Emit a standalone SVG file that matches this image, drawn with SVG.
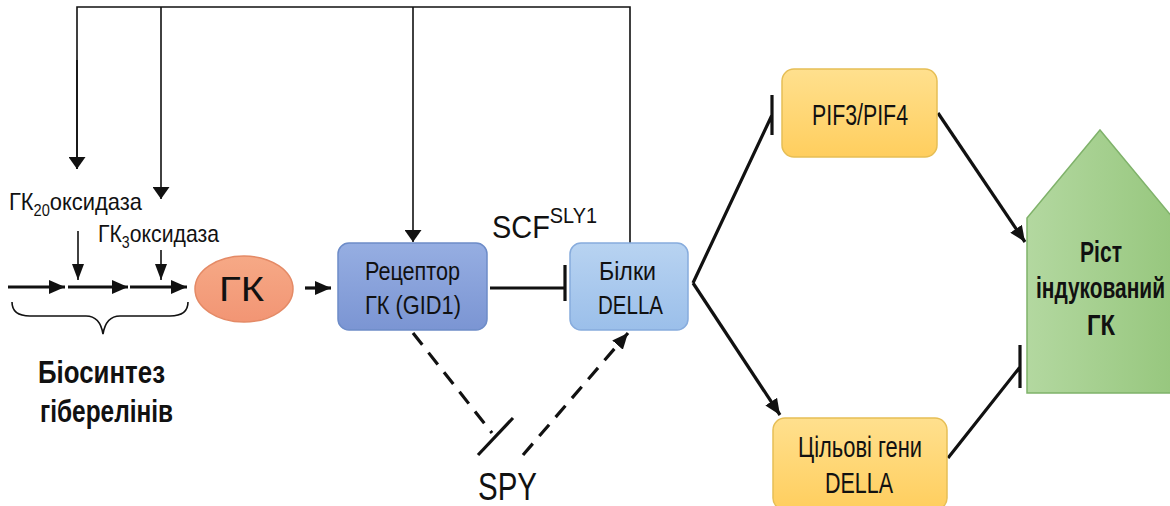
<svg xmlns="http://www.w3.org/2000/svg" width="1170" height="506" viewBox="0 0 1170 506">
<defs>
<style>
.t{font-family:"Liberation Sans",Arial,sans-serif;fill:#111}
.b{font-weight:bold}
.thin{stroke:#111;stroke-width:1.6;fill:none}
.thick{stroke:#111;stroke-width:3.2;fill:none}
.dash{stroke:#111;stroke-width:3.2;fill:none;stroke-dasharray:15 10}
</style>
<marker id="ah" markerUnits="userSpaceOnUse" viewBox="0 0 12 17" refX="12" refY="8.5" markerWidth="12" markerHeight="17" orient="auto"><path d="M0,0 L12,8.5 L0,17 z" fill="#111"/></marker>
<marker id="ahs" markerUnits="userSpaceOnUse" viewBox="0 0 16 12" refX="16" refY="6" markerWidth="16" markerHeight="12" orient="auto"><path d="M0,0 L16,6 L0,12 z" fill="#111"/></marker>
<marker id="ahb" markerUnits="userSpaceOnUse" viewBox="0 0 16 14" refX="16" refY="7" markerWidth="16" markerHeight="14" orient="auto"><path d="M0,0 L16,7 L0,14 z" fill="#111"/></marker>
<linearGradient id="gRec" x1="0" y1="0" x2="0" y2="1"><stop offset="0" stop-color="#96AEE2"/><stop offset="1" stop-color="#7B95D3"/></linearGradient>
<linearGradient id="gDel" x1="0" y1="0" x2="0" y2="1"><stop offset="0" stop-color="#B8D3F1"/><stop offset="1" stop-color="#9BBFEA"/></linearGradient>
<linearGradient id="gY" x1="0" y1="0" x2="0" y2="1"><stop offset="0" stop-color="#FFE08E"/><stop offset="1" stop-color="#FFCE5E"/></linearGradient>
<linearGradient id="gG" x1="0" y1="0" x2="1" y2="0"><stop offset="0" stop-color="#B3D8A0"/><stop offset="1" stop-color="#97C77E"/></linearGradient>
<linearGradient id="gO" x1="0" y1="0" x2="0" y2="1"><stop offset="0" stop-color="#F6A986"/><stop offset="1" stop-color="#F29574"/></linearGradient>
</defs>

<g id="connectors">
<path class="thin" d="M77,169 V7 H630 V243"/>
<path class="thin" d="M77,60 V169" marker-end="url(#ah)"/>
<path class="thin" d="M161,7 V199" marker-end="url(#ah)"/>
<path class="thin" d="M413,7 V242" marker-end="url(#ah)"/>
<path class="thin" d="M78,231 V280" marker-end="url(#ahs)"/>
<path class="thin" d="M161,250 V280" marker-end="url(#ahs)"/>
<path class="thick" d="M8,287 H65" marker-end="url(#ahb)"/>
<path class="thick" d="M68,287 H128" marker-end="url(#ahb)"/>
<path class="thick" d="M130,287 H187" marker-end="url(#ahb)"/>
<path class="thick" d="M305,288 H331" marker-end="url(#ahb)"/>
<path class="thick" d="M490,288 H565 M565,265 V301"/>
<path class="dash" d="M413,333 L492,433"/>
<path class="thick" d="M478,455 L513,418"/>
<path class="dash" d="M523,455 L628,333" marker-end="url(#ahb)"/>
<path class="thick" d="M693,283 L772,115 M772,95 V135"/>
<path class="thick" d="M693,283 L780,415" marker-end="url(#ahb)"/>
<path class="thick" d="M938,113 L1025,242" marker-end="url(#ahb)"/>
<path class="thick" d="M948,458 L1020,367 M1020,345 V388"/>
<path class="thin" stroke-width="1.8" d="M12,302 Q12,316 30,316 H86 Q100,316 103,334 Q106,316 120,316 H170 Q188,316 188,302"/>
</g>

<g id="labels">
<text class="t" x="9" y="210" font-size="24" textLength="133" lengthAdjust="spacingAndGlyphs">ГК<tspan font-size="16" dy="6">20</tspan><tspan dy="-6">оксидаза</tspan></text>
<text class="t" x="98" y="242" font-size="24" textLength="121" lengthAdjust="spacingAndGlyphs">ГК<tspan font-size="16" dy="6">3</tspan><tspan dy="-6">оксидаза</tspan></text>
<text class="t b" x="38" y="383" font-size="32" textLength="127" lengthAdjust="spacingAndGlyphs">Біосинтез</text>
<text class="t b" x="40" y="422" font-size="32" textLength="133" lengthAdjust="spacingAndGlyphs">гіберелінів</text>
<text class="t" x="492" y="238" font-size="32" textLength="105" lengthAdjust="spacingAndGlyphs">SCF<tspan font-size="22" dy="-15">SLY1</tspan></text>
<text class="t" x="478" y="500" font-size="38" textLength="59" lengthAdjust="spacingAndGlyphs">SPY</text>
</g>

<g id="node-gk">
<ellipse cx="244" cy="289" rx="49" ry="33" fill="url(#gO)" stroke="#E48A66" stroke-width="1.5"/>
<text class="t" x="219" y="301" font-size="35" textLength="45" lengthAdjust="spacingAndGlyphs">ГК</text>
</g>

<g id="node-receptor">
<rect x="338" y="243" width="149" height="87" rx="11" fill="url(#gRec)" stroke="#6D8CC8" stroke-width="1.5"/>
<text class="t" x="365" y="280" font-size="25" textLength="95" lengthAdjust="spacingAndGlyphs">Рецептор</text>
<text class="t" x="365" y="314" font-size="25" textLength="96" lengthAdjust="spacingAndGlyphs">ГК (GID1)</text>
</g>

<g id="node-della">
<rect x="570" y="243" width="118" height="87" rx="11" fill="url(#gDel)" stroke="#87ACDD" stroke-width="1.5"/>
<text class="t" x="599" y="280" font-size="25" textLength="57" lengthAdjust="spacingAndGlyphs">Білки</text>
<text class="t" x="598" y="314" font-size="25" textLength="65" lengthAdjust="spacingAndGlyphs">DELLA</text>
</g>

<g id="node-pif">
<rect x="782" y="69" width="155" height="88" rx="12" fill="url(#gY)" stroke="#E6BE55" stroke-width="1.5"/>
<text class="t" x="812" y="125" font-size="29" textLength="96" lengthAdjust="spacingAndGlyphs">PIF3/PIF4</text>
</g>

<g id="node-targets">
<rect x="773" y="418" width="174" height="92" rx="12" fill="url(#gY)" stroke="#E6BE55" stroke-width="1.5"/>
<text class="t" x="798" y="457" font-size="29" textLength="124" lengthAdjust="spacingAndGlyphs">Цільові гени</text>
<text class="t" x="825" y="493" font-size="29" textLength="68" lengthAdjust="spacingAndGlyphs">DELLA</text>
</g>

<g id="node-growth">
<path d="M1100,130 L1173,218 V393 H1027 V218 Z" fill="url(#gG)" stroke="#7FB26A" stroke-width="1.5"/>
<text class="t b" x="1080" y="262" font-size="30" textLength="42" lengthAdjust="spacingAndGlyphs">Ріст</text>
<text class="t b" x="1036" y="298" font-size="30" textLength="129" lengthAdjust="spacingAndGlyphs">індукований</text>
<text class="t b" x="1087" y="335" font-size="30" textLength="28" lengthAdjust="spacingAndGlyphs">ГК</text>
</g>
</svg>
